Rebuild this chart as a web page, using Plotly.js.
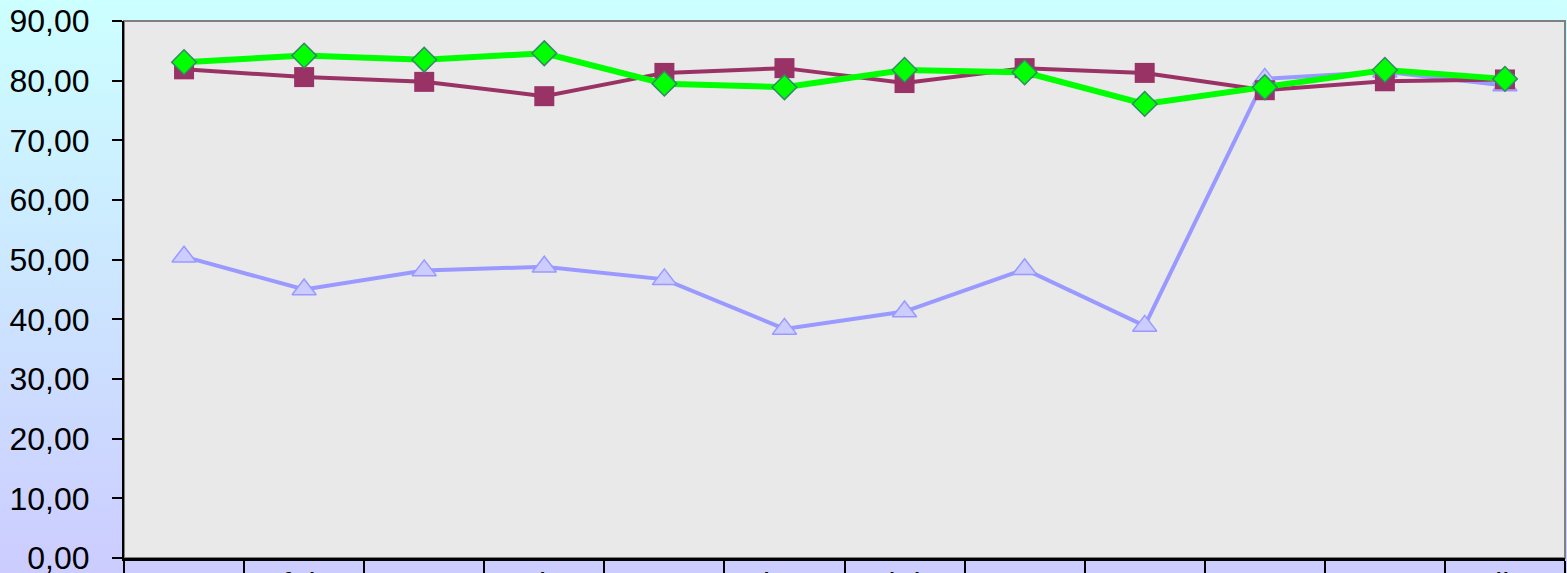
<!DOCTYPE html>
<html>
<head>
<meta charset="utf-8">
<script src="https://cdn.plot.ly/plotly-3.0.1.min.js"></script>
<style>
  html, body { margin: 0; padding: 0; overflow: hidden; }
  #chart { width: 1567px; height: 573px; background: linear-gradient(to bottom, #CCFFFF 0%, #CCCCFF 100%); }
</style>
</head>
<body>
<div id="chart"></div>
<script>
const categories = ["ene", "feb", "mar", "abr", "may", "jun", "jul", "ago", "sep", "oct", "nov", "dic"];
const seriesPurple = [81.9, 80.6, 79.8, 77.4, 81.3, 82.1, 79.6, 82.1, 81.3, 78.4, 79.9, 80.2];
const seriesGreen  = [83.1, 84.2, 83.5, 84.6, 79.5, 78.9, 81.8, 81.4, 76.1, 78.9, 81.8, 80.3];
const seriesBlue   = [50.5, 45.0, 48.2, 48.8, 46.7, 38.4, 41.3, 48.4, 38.9, 80.3, 81.5, 79.2];
const yTicks = [0, 10, 20, 30, 40, 50, 60, 70, 80, 90];

const traces = [
  {
    x: categories, y: seriesBlue, type: "scatter", mode: "lines+markers",
    line: { color: "#9999FF", width: 4 },
    marker: { symbol: "triangle-up", size: 21, color: "#CCCCFF", line: { color: "#9999FF", width: 1.5 } }
  },
  {
    x: categories, y: seriesPurple, type: "scatter", mode: "lines+markers",
    line: { color: "#993366", width: 4 },
    marker: { symbol: "square", size: 20, color: "#993366", line: { width: 0 } }
  },
  {
    x: categories, y: seriesGreen, type: "scatter", mode: "lines+markers",
    line: { color: "#00FF00", width: 6 },
    marker: { symbol: "diamond", size: 19, color: "#00FF00", line: { color: "#338866", width: 1.5 } }
  }
];

const layout = {
  width: 1567, height: 573,
  margin: { l: 124, r: 2, t: 21, b: 15, pad: 0 },
  paper_bgcolor: "rgba(0,0,0,0)",
  plot_bgcolor: "#e9e9e9",
  showlegend: false,
  hovermode: false,
  separators: ",.",
  font: { family: "Liberation Sans, Arial, sans-serif", size: 32, color: "#000000" },
  xaxis: {
    type: "category",
    categoryorder: "array", categoryarray: categories,
    tickson: "boundaries",
    ticks: "outside", ticklen: 20, tickwidth: 2, tickcolor: "#000000",
    showline: true, linecolor: "#000000", linewidth: 3,
    showgrid: false, zeroline: false,
    ticklabelstandoff: -4,
    ticklabeloverflow: "allow",
    tickfont: { size: 32, color: "#000000" },
    range: [-0.5, 11.5]
  },
  yaxis: {
    range: [0, 90],
    tickvals: yTicks,
    tickformat: ".2f",
    ticks: "outside", ticklen: 10, tickwidth: 2, tickcolor: "#000000",
    showline: true, linecolor: "#000000", linewidth: 2,
    showgrid: false, zeroline: false,
    ticklabeloverflow: "allow",
    tickfont: { size: 32, color: "#000000" },
    ticklabelstandoff: 16
  },
  shapes: [
    { type: "rect", xref: "paper", yref: "paper", x0: 0, x1: 1, y0: 0, y1: 1,
      line: { color: "#808080", width: 2 }, fillcolor: "rgba(0,0,0,0)", layer: "below" }
  ]
};

Plotly.newPlot("chart", traces, layout, { displayModeBar: false, staticPlot: true });
</script>
</body>
</html>
